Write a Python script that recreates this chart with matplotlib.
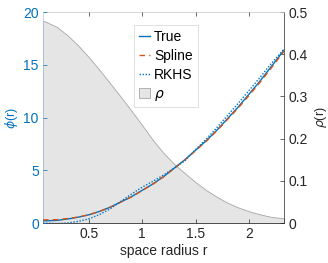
import matplotlib
matplotlib.use("Agg")
import matplotlib.pyplot as plt
from matplotlib.patches import Patch
from matplotlib.lines import Line2D

plt.rcParams['font.family'] = ['Liberation Sans', 'DejaVu Sans']
plt.rcParams['mathtext.fontset'] = 'dejavusans'

r = [0.07, 0.2, 0.3, 0.4, 0.5, 0.6, 0.7, 0.8, 0.9, 1.0, 1.1, 1.2, 1.3, 1.4,
     1.5, 1.6, 1.7, 1.8, 1.9, 2.0, 2.1, 2.2, 2.33]
phi_true = [0.2, 0.25, 0.38, 0.55, 0.78, 1.1, 1.5, 2.0, 2.5, 3.1, 3.7, 4.4,
            5.2, 6.0, 6.9, 7.8, 8.8, 9.9, 11.0, 12.2, 13.4, 14.7, 16.4]
phi_spline = [0.3, 0.32, 0.42, 0.57, 0.79, 1.1, 1.5, 1.98, 2.48, 3.08, 3.68,
              4.38, 5.18, 5.98, 6.86, 7.75, 8.74, 9.82, 10.9, 12.08, 13.28,
              14.56, 16.3]
phi_rkhs = [0.0, -0.05, 0.0, 0.15, 0.4, 0.8, 1.35, 2.05, 2.75, 3.4, 3.95, 4.55,
            5.2, 5.9, 6.95, 7.95, 9.05, 10.2, 11.35, 12.55, 13.75, 15.0, 16.5]
rho = [0.480, 0.465, 0.445, 0.421, 0.393, 0.363, 0.331, 0.299, 0.266, 0.232,
       0.197, 0.166, 0.140, 0.118, 0.097, 0.078, 0.062, 0.048, 0.037, 0.028,
       0.021, 0.015, 0.011]

blue = '#0072BD'
orange = '#D95319'

fig = plt.figure(figsize=(3.28, 2.63), dpi=100)
ax = fig.add_axes([0.131, 0.152, 0.735, 0.802])
ax2 = ax.twinx()

ax2.fill_between(r, rho, 0, facecolor='#e5e5e5', edgecolor='#a6a6a6', linewidth=0.6)
ax2.set_ylim(0, 0.5)
ax2.set_yticks([0, 0.1, 0.2, 0.3, 0.4, 0.5])
ax2.set_yticklabels(['0', '0.1', '0.2', '0.3', '0.4', '0.5'])

ax.set_zorder(ax2.get_zorder() + 1)
ax.patch.set_visible(False)

ax.plot(r, phi_true, color=blue, lw=1.0, label='True')
ax.plot(r, phi_spline, color=orange, lw=1.0, ls=(0, (4, 3)), label='Spline')
ax.plot(r, phi_rkhs, color=blue, lw=1.0, ls=(0, (1, 1.2)), label='RKHS')
ax.set_xlim(0.07, 2.33)
ax.set_ylim(0, 20)
ax.set_xticks([0.5, 1, 1.5, 2])
ax.set_xticklabels(['0.5', '1', '1.5', '2'])
ax.set_yticks([0, 5, 10, 15, 20])

ax.tick_params(axis='both', direction='in', length=3, width=0.5, labelsize=10, pad=3)
ax.tick_params(axis='x', top=True, colors='#262626', labelcolor='#262626')
ax.tick_params(axis='y', colors=blue, labelcolor=blue)
ax2.tick_params(axis='y', direction='in', length=3, width=0.5, labelsize=10,
                colors='#262626', labelcolor='#262626', pad=3)

for sp in ['top', 'bottom', 'left', 'right']:
    ax.spines[sp].set_visible(False)
    ax2.spines[sp].set_visible(True)
ax2.spines['right'].set_color('#262626')
ax2.spines['top'].set_color('#c8c8c8')
ax2.spines['bottom'].set_color('#262626')
for sp in ax2.spines.values():
    sp.set_linewidth(0.5)
ax2.spines['left'].set_color('#a8c8e8')

ax.set_xlabel('space radius r', fontsize=10, color='#262626', labelpad=2)
ax.set_ylabel(r'$\phi$(r)', fontsize=9, color=blue, labelpad=2)
ax2.set_ylabel(r'$\rho$(r)', fontsize=9, color='#262626', labelpad=4)

handles = [Line2D([], [], color=blue, lw=1.0),
           Line2D([], [], color=orange, lw=1.0, ls=(0, (4, 3))),
           Line2D([], [], color=blue, lw=1.0, ls=(0, (1, 1.2))),
           Patch(facecolor='#e5e5e5', edgecolor='#a6a6a6', linewidth=0.6)]
labels = ['True', 'Spline', 'RKHS', r'$\rho$']
leg = ax.legend(handles, labels, loc='upper left', bbox_to_anchor=(0.378, 0.938),
                fontsize=10, frameon=True, fancybox=False, handlelength=0.8,
                handletextpad=0.3, borderpad=0.35, labelspacing=0.35,
                borderaxespad=0)
leg.get_frame().set_edgecolor('#c8c8c8')
leg.get_frame().set_linewidth(0.5)

fig.savefig('out.png', dpi=100)
